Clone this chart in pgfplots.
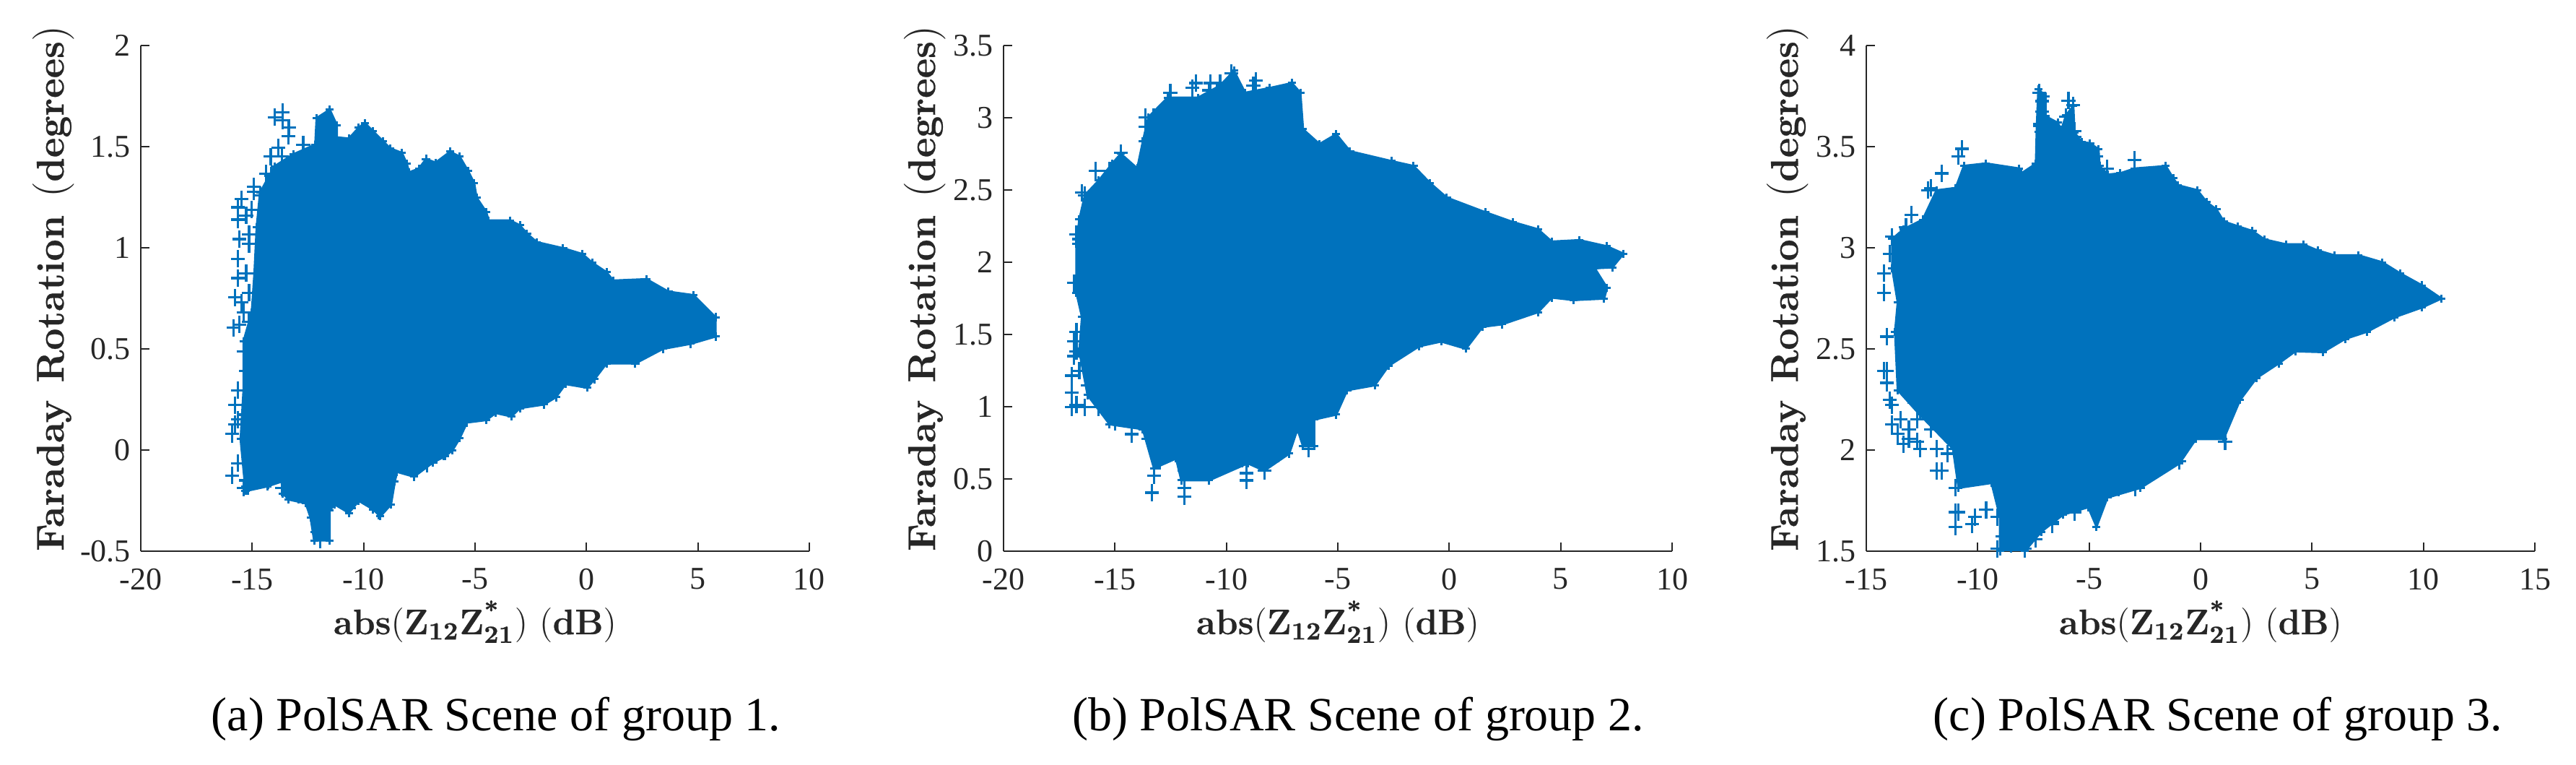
\documentclass[border=0pt]{standalone}
\usepackage{fontspec}
\usepackage{pgfplots}
\usepackage{pgfplotstable}
\pgfplotsset{compat=1.18}
\newfontfamily\lib{Liberation Serif}
\newfontfamily\lmb[BoldFeatures={FakeBold=0.5}]{Latin Modern Roman}
\definecolor{mblue}{HTML}{0072BD}
\definecolor{mgray}{HTML}{262626}
\newcommand\bt[1]{\hbox{\lmb\bfseries #1}}
\newcommand\bts[1]{\hbox{\lmb\bfseries\fontsize{8.6}{10}\selectfont #1}}

% outline of the dense cloud, group 1
\pgfplotstableread{
x y
-15.39 0.537
-15.02 0.681
-14.90 0.874
-14.80 1.1
-14.65 1.272
-14.0 1.403
-13.14 1.463
-12.17 1.510
-12.11 1.641
-11.52 1.683
-11.20 1.606
-11.20 1.546
-10.66 1.540
-10.22 1.594
-9.95 1.617
-9.58 1.576
-9.14 1.528
-8.82 1.492
-8.28 1.469
-8.06 1.415
-7.96 1.373
-7.52 1.391
-7.20 1.439
-6.77 1.421
-6.12 1.475
-5.69 1.451
-5.31 1.379
-5.04 1.320
-4.93 1.248
-4.50 1.177
-4.39 1.135
-3.42 1.135
-2.99 1.111
-2.67 1.070
-2.23 1.028
-1.05 0.998
-0.18 0.969
0.25 0.927
0.90 0.879
1.20 0.838
2.69 0.845
3.68 0.783
4.80 0.766
5.79 0.657
5.79 0.561
4.67 0.525
3.43 0.5
2.19 0.428
0.90 0.428
0.36 0.350
0.03 0.308
-0.94 0.326
-1.37 0.261
-1.91 0.225
-2.99 0.207
-3.37 0.166
-4.07 0.183
-4.50 0.148
-5.36 0.136
-5.69 0.058
-6.01 -0.001
-6.34 -0.031
-6.88 -0.061
-7.74 -0.132
-8.50 -0.108
-8.60 -0.156
-8.77 -0.269
-9.25 -0.328
-9.58 -0.293
-10.22 -0.251
-10.66 -0.311
-11.30 -0.269
-11.52 -0.299
-11.52 -0.447
-12.22 -0.447
-12.38 -0.334
-12.60 -0.263
-13.36 -0.245
-13.63 -0.215
-13.68 -0.156
-14.33 -0.180
-15.30 -0.203
-15.52 0.054
-15.39 0.296
-15.39 0.537
}\outlineA
% isolated points, group 1
\pgfplotstableread{
x y
-13.63 1.671
-14.0 1.645
-13.36 1.594
-13.38 1.552
-13.82 1.496
-14.17 1.451
-14.38 1.367
-14.92 1.302
-14.92 1.278
-13.63 1.629
-12.71 1.510
-15.64 1.2
-15.47 1.241
-15.64 1.139
-15.59 1.043
-15.64 0.946
-15.64 0.85
-15.76 0.754
-15.47 0.73
-15.84 0.604
-15.59 0.621
-15.76 0.223
-15.76 0.127
-15.89 0.079
-15.89 -0.126
-15.39 -0.187
-15.64 -0.066
-14.77 -0.126
-14.28 -0.15
-15.19 -0.18
-9.31 -0.299
-10.66 -0.287
-11.95 -0.442
-12.06 -0.406
-11.95 -0.370
-7.74 -0.108
-7.15 -0.067
-6.39 -0.007
-15.14 1.067
-15.27 0.874
-15.27 1.16
-15.14 0.778
-15.39 0.681
-14.53 -0.066
-15.39 -0.066
-14.77 -0.042
-14.15 -0.09
-15.27 -0.150
-13.66 -0.187
-12.92 -0.223
-15.64 0.151
-15.27 0.175
-15.64 0.296
-15.27 0.392
-15.39 0.488
-15.14 0.633
-15.14 1.019
-15.02 1.188
-14.65 1.26
-14.15 1.356
-13.66 1.453
}\pointsA

% group 2
\pgfplotstableread{
x y
-16.48 1.62
-16.73 1.789
-16.73 2.126
-16.60 2.295
-16.35 2.464
-15.73 2.565
-15.12 2.683
-14.74 2.751
-14.0 2.65
-13.75 2.835
-13.50 3.004
-12.64 3.139
-11.27 3.139
-10.28 3.223
-9.66 3.325
-9.16 3.173
-8.05 3.206
-7.06 3.24
-6.68 3.173
-6.56 2.92
-5.82 2.818
-5.07 2.886
-4.45 2.768
-2.59 2.7
-1.60 2.666
-0.86 2.548
-0.11 2.447
1.62 2.346
2.86 2.278
3.98 2.228
4.60 2.143
5.84 2.153
7.08 2.11
7.82 2.059
7.32 1.964
6.53 1.958
7.08 1.823
6.95 1.748
5.59 1.738
4.60 1.755
3.98 1.654
2.37 1.57
1.50 1.553
0.75 1.401
-0.36 1.451
-1.35 1.418
-2.72 1.283
-3.34 1.148
-4.58 1.114
-5.07 0.945
-6.06 0.911
-6.06 0.726
-6.56 0.726
-6.81 0.844
-7.18 0.675
-8.30 0.557
-9.04 0.608
-10.78 0.49
-12.02 0.49
-12.26 0.641
-13.25 0.574
-13.75 0.844
-15.24 0.878
-16.23 1.08
-16.6 1.384
-16.48 1.62
}\outlineB
\pgfplotstableread{
x y
-13.33 0.405
-11.89 0.378
-11.89 0.439
-9.09 0.49
-9.09 0.54
-13.25 0.523
-16.93 0.996
-16.93 1.097
-16.35 0.996
-15.74 0.996
-16.93 1.215
-16.85 1.35
-16.85 1.451
-15.98 1.114
-16.48 2.481
-15.86 2.633
-14.74 2.757
-13.63 3.004
-12.52 3.173
-11.36 3.24
-10.72 3.24
-8.67 3.257
-8.72 3.173
-16.85 1.856
-16.73 2.194
-6.31 0.76
-16.73 1.013
-16.23 1.148
-16.6 1.249
-16.73 1.384
-16.35 1.367
-16.73 1.519
-15.49 1.013
-14.99 0.895
-14.25 0.810
-13.5 0.776
-13.0 0.625
-11.89 0.557
-10.78 0.523
-9.29 0.641
-8.3 0.557
-7.68 0.675
-6.31 0.709
-13.26 3.004
-13.63 2.936
-12.5 3.173
-11.52 3.206
-10.78 3.19
-10.28 3.24
-9.79 3.308
-8.79 3.223
-8.05 3.173
-16.35 2.464
-15.24 2.633
-16.6 2.16
-16.73 1.856
}\pointsB

% group 3
\pgfplotstableread{
x y
-13.59 2.73
-13.84 2.898
-13.84 3.043
-13.34 3.091
-12.47 3.139
-11.85 3.284
-10.99 3.296
-10.62 3.405
-9.63 3.417
-8.14 3.392
-8.04 3.368
-7.39 3.416
-7.35 3.6
-7.28 3.785
-6.96 3.749
-6.95 3.65
-6.41 3.618
-6.25 3.583
-6.04 3.654
-5.71 3.702
-5.66 3.571
-5.34 3.523
-4.96 3.517
-4.58 3.487
-4.53 3.404
-4.15 3.362
-3.61 3.368
-2.96 3.392
-1.56 3.404
-1.23 3.344
-1.01 3.309
-0.15 3.285
0.28 3.225
0.71 3.190
1.04 3.130
1.68 3.106
2.33 3.083
2.87 3.041
3.84 3.017
4.6 3.017
5.25 2.987
6.0 2.963
7.08 2.963
8.16 2.928
8.95 2.874
9.94 2.814
10.81 2.749
9.94 2.705
8.71 2.657
7.47 2.585
6.48 2.549
5.49 2.484
4.25 2.488
3.50 2.428
2.51 2.356
1.77 2.247
1.03 2.054
-0.21 2.054
-0.95 1.934
-2.69 1.813
-4.18 1.765
-4.67 1.621
-5.04 1.717
-6.16 1.681
-7.15 1.596
-7.89 1.5
-9.0 1.5
-9.0 1.669
-9.38 1.837
-10.86 1.813
-11.11 2.006
-12.60 2.175
-13.59 2.296
-13.71 2.585
-13.59 2.73
}\outlineC
\pgfplotstableread{
x y
-7.25 3.767
-7.12 3.725
-7.12 3.672
-7.22 3.612
-5.93 3.728
-5.71 3.704
-6.04 3.648
-5.66 3.577
-2.96 3.434
-4.2 3.392
-10.71 3.489
-12.10 3.296
-11.61 3.368
-12.97 3.163
-13.84 3.055
-14.21 2.874
-14.21 2.778
-14.08 2.561
-14.08 2.392
-14.08 2.332
-13.96 2.247
-13.84 2.127
-13.34 2.03
-12.60 2.006
-11.85 1.898
-10.99 1.621
-10.25 1.633
-10.99 1.693
-9.13 1.512
-7.89 1.512
-7.40 1.56
1.10 2.042
-6.65 1.633
-13.09 2.103
-12.72 2.151
-11.36 1.982
-13.59 2.079
-13.09 2.054
-12.72 2.042
-13.46 2.151
-13.84 2.223
-13.09 2.271
-12.1 2.103
-11.85 2.006
-11.61 1.898
-10.99 1.813
-10.86 1.693
-10.12 1.669
-9.62 1.705
-9.13 1.669
-8.88 1.572
-8.51 1.536
-7.40 1.584
-6.65 1.645
-5.66 1.693
-3.68 1.813
-2.94 1.813
-0.95 1.946
-14.21 2.392
-13.96 2.971
-13.22 3.103
-12.23 3.284
-10.86 3.453
-7.15 3.573
-6.9 3.501
-5.66 3.549
-4.67 3.453
}\pointsC

\pgfplotsset{
  panel/.style={
    scale only axis, width=231.5pt, height=175pt,
    anchor=south west,
    axis x line=bottom, axis y line=left,
    axis line style={-, mgray, line width=0.5pt},
    tick style={mgray, line width=0.5pt},
    tick align=inside, major tick length=3pt,
    /pgf/number format/assume math mode=true,
    tick label style={font=\lib\fontsize{11}{13}\selectfont, text=mgray},
    xticklabel style={yshift=-2.5pt},
    xlabel={$\bt{abs}(\bt{Z}_{\bts{12}}\bt{Z}^{\bts{*}}_{\bts{21}})\ (\bt{dB})$},
    ylabel={\bt{Faraday\ \kern1pt Rotation\ \kern1pt}$(\bt{degrees})$},
    xlabel style={font=\lmb\fontsize{12.3}{15}\selectfont, text=mgray, at={(axis description cs:0.5,0)}, anchor=base, yshift=-28.75pt},
    ylabel style={font=\lmb\fontsize{13.4}{15}\selectfont, text=mgray},
  },
  cloud/.style={fill=mblue, draw=mblue, line width=0.75pt, line join=round},
  pts/.style={only marks, mark=+, mark size=2.4pt, mblue, mark options={line width=0.8pt, yscale=1.25}},
  edge/.style={only marks, mark=+, mark size=1.4pt, mblue, mark options={line width=0.75pt}},
}

\begin{document}
\begin{tikzpicture}
\path[use as bounding box] (0,0) rectangle (892pt,264.75pt);

\begin{axis}[panel, at={(48.75pt,74pt)},
    xmin=-20, xmax=10, ymin=-0.5, ymax=2,
    xtick={-20,-15,...,10}, ytick={-0.5,0,0.5,1,1.5,2},
    ylabel style={at={(axis description cs:-0.131,0.52)}, anchor=center}]
\addplot[cloud] table {\outlineA};
\addplot[edge] table {\outlineA};
\addplot[pts] table {\pointsA};
\end{axis}

\begin{axis}[panel, at={(347.5pt,74pt)},
    xmin=-20, xmax=10, ymin=0, ymax=3.5,
    xtick={-20,-15,...,10}, ytick={0,0.5,1,1.5,2,2.5,3,3.5},
    ylabel style={at={(axis description cs:-0.118,0.52)}, anchor=center}]
\addplot[cloud] table {\outlineB};
\addplot[edge] table {\outlineB};
\addplot[pts] table {\pointsB};
\end{axis}

\begin{axis}[panel, at={(646.25pt,74pt)},
    xmin=-15, xmax=15, ymin=1.5, ymax=4,
    xtick={-15,-10,...,15}, ytick={1.5,2,2.5,3,3.5,4},
    ylabel style={at={(axis description cs:-0.118,0.52)}, anchor=center}]
\addplot[cloud] table {\outlineC};
\addplot[edge] table {\outlineC};
\addplot[pts] table {\pointsC};
\end{axis}

% captions under the panels
\begin{scope}[every node/.style={anchor=base, font=\lib\fontsize{16.5}{20}\selectfont, text=black}]
\node at (171.75pt,11.75pt) {(a) PolSAR Scene of group 1.};
\node at (470.25pt,11.75pt) {(b) PolSAR Scene of group 2.};
\node at (768pt,11.75pt) {(c) PolSAR Scene of group 3.};
\end{scope}
\end{tikzpicture}
\end{document}
